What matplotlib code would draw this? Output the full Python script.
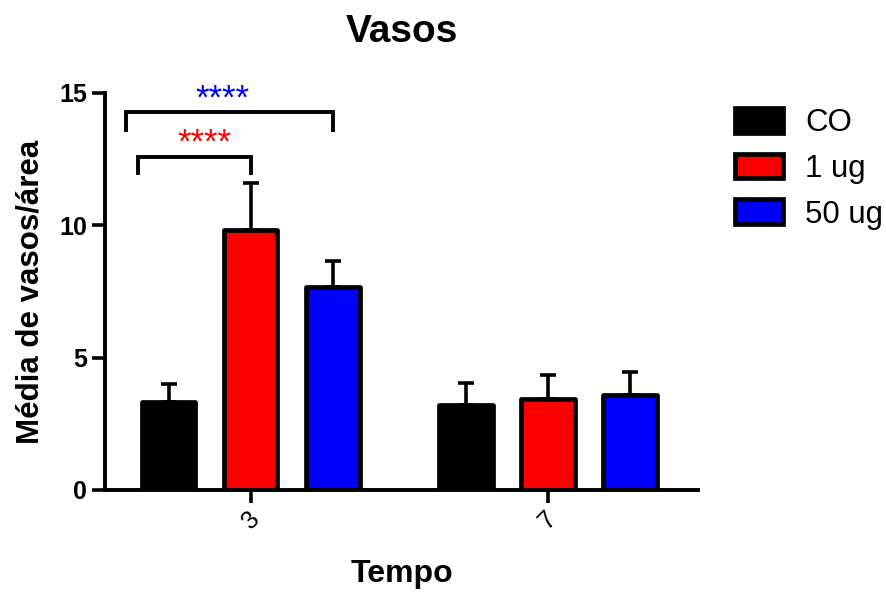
import numpy as np
import matplotlib.pyplot as plt

plt.rcParams['font.family'] = ['Liberation Sans', 'DejaVu Sans']

tempos = ['3', '7']
grupos = ['CO', '1 ug', '50 ug']
cores = ['#000000', '#ff0000', '#0000ff']
medias = [[3.32, 3.21],
          [9.82, 3.44],
          [7.67, 3.59]]
erros = [[0.68, 0.83],
         [1.78, 0.90],
         [0.98, 0.87]]

fig = plt.figure(figsize=(8.86, 5.92), dpi=100)
ax = fig.add_axes([0.1185, 0.1723, 0.6695, 0.6707])

x = np.arange(len(tempos))
passo = 0.276
larg = 0.18
for i, (g, c) in enumerate(zip(grupos, cores)):
    pos = x + (i - 1) * passo
    ax.bar(pos, medias[i], width=larg, color=c, edgecolor='black',
           linewidth=3.4, joinstyle='round', label=g, zorder=2)
    ax.errorbar(pos, medias[i], yerr=[np.zeros(len(tempos)), erros[i]],
                fmt='none', ecolor='black', elinewidth=2.6, capsize=6,
                capthick=2.6, zorder=1)

# brackets de significancia
def bracket(x0, x1, ytop, yleg, txt, cor, ytxt, xtxt):
    ax.plot([x0, x0, x1, x1], [yleg, ytop, ytop, yleg], color='black',
            lw=2.8, solid_joinstyle='miter', clip_on=False)
    ax.text(xtxt, ytxt, txt, color=cor, fontsize=25, ha='center',
            va='center', clip_on=False)

bracket(-0.418, 0.276, 14.28, 13.6, '****', '#0000ff', 14.75, -0.095)
bracket(-0.38, 0.0, 12.58, 11.98, '****', '#ff0000', 13.1, -0.155)

ax.set_xlim(-0.49, 1.505)
ax.set_ylim(0, 15)
ax.set_yticks([0, 5, 10, 15])
ax.set_xticks(x)
ax.set_xticklabels(tempos, rotation=45, fontsize=18)
ax.tick_params(axis='y', labelsize=18, width=2.6, length=9.5, pad=3.5)
ax.tick_params(axis='x', width=2.6, length=9, pad=3)
for lbl in ax.get_yticklabels():
    lbl.set_fontweight('bold')
for s in ['top', 'right']:
    ax.spines[s].set_visible(False)
for s in ['left', 'bottom']:
    ax.spines[s].set_linewidth(2.8)

ax.set_title('Vasos', fontsize=28, fontweight='bold', pad=37)
ax.set_ylabel('Média de vasos/área', fontsize=22.5, fontweight='bold', labelpad=10)
ax.set_xlabel('Tempo', fontsize=23, fontweight='bold', labelpad=18)

ax.legend(loc='upper left', bbox_to_anchor=(1.062, 0.962), frameon=False,
          fontsize=22.5, handlelength=1.54, handleheight=0.83,
          labelspacing=0.5, handletextpad=0.7, borderpad=0,
          borderaxespad=0)

fig.savefig('out.png', dpi=100)
